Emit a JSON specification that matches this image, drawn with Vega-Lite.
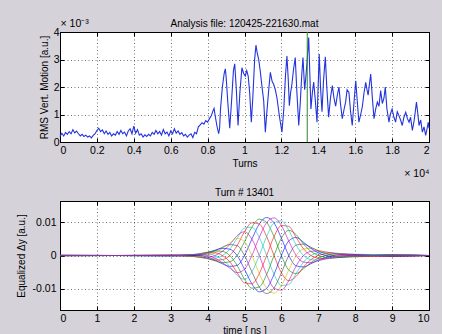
{
"$schema": "https://vega.github.io/schema/vega-lite/v6.json",
"background": "#d5d2d9",
"padding": {"left": 15, "top": 18, "right": 10, "bottom": 5},
"config": {
 "font": "Liberation Sans",
 "view": {"fill": "white", "stroke": "black", "strokeWidth": 1},
 "axis": {"labelFont": "Liberation Sans", "labelFontSize": 10.5, "labelColor": "black", "titleFont": "Liberation Sans", "titleFontSize": 10, "titleFontWeight": "normal", "titleColor": "black", "domainColor": "black", "tickColor": "black", "gridColor": "#000000", "gridOpacity": 0.55, "gridDash": [1, 2.5], "tickSize": -4, "labelPadding": 7},
 "title": {"font": "Liberation Sans", "fontSize": 10, "fontWeight": "normal", "color": "black"}
},
"datasets": {
 "rms": [
  {"t":0,"v":0.20},{"t":0.01,"v":0.32},{"t":0.02,"v":0.22},{"t":0.03,"v":0.35},{"t":0.04,"v":0.28},{"t":0.05,"v":0.38},{"t":0.06,"v":0.30},{"t":0.07,"v":0.45},{"t":0.08,"v":0.33},{"t":0.09,"v":0.40},
  {"t":0.10,"v":0.30},{"t":0.11,"v":0.22},{"t":0.12,"v":0.28},{"t":0.13,"v":0.20},{"t":0.14,"v":0.25},{"t":0.15,"v":0.18},{"t":0.16,"v":0.22},{"t":0.17,"v":0.15},{"t":0.18,"v":0.24},{"t":0.19,"v":0.30},
  {"t":0.20,"v":0.42},{"t":0.21,"v":0.50},{"t":0.22,"v":0.38},{"t":0.23,"v":0.44},{"t":0.24,"v":0.30},{"t":0.25,"v":0.40},{"t":0.26,"v":0.28},{"t":0.27,"v":0.35},{"t":0.28,"v":0.22},{"t":0.29,"v":0.30},
  {"t":0.30,"v":0.25},{"t":0.31,"v":0.38},{"t":0.32,"v":0.28},{"t":0.33,"v":0.42},{"t":0.34,"v":0.30},{"t":0.35,"v":0.36},{"t":0.36,"v":0.22},{"t":0.37,"v":0.40},{"t":0.38,"v":0.48},{"t":0.39,"v":0.30},
  {"t":0.40,"v":0.58},{"t":0.41,"v":0.32},{"t":0.42,"v":0.45},{"t":0.43,"v":0.25},{"t":0.44,"v":0.30},{"t":0.45,"v":0.18},{"t":0.46,"v":0.26},{"t":0.47,"v":0.20},{"t":0.48,"v":0.28},{"t":0.49,"v":0.22},
  {"t":0.50,"v":0.35},{"t":0.51,"v":0.28},{"t":0.52,"v":0.42},{"t":0.53,"v":0.30},{"t":0.54,"v":0.38},{"t":0.55,"v":0.25},{"t":0.56,"v":0.45},{"t":0.57,"v":0.30},{"t":0.58,"v":0.36},{"t":0.59,"v":0.22},
  {"t":0.60,"v":0.40},{"t":0.61,"v":0.30},{"t":0.62,"v":0.48},{"t":0.63,"v":0.32},{"t":0.64,"v":0.40},{"t":0.65,"v":0.28},{"t":0.66,"v":0.34},{"t":0.67,"v":0.22},{"t":0.68,"v":0.28},{"t":0.69,"v":0.18},
  {"t":0.70,"v":0.25},{"t":0.71,"v":0.30},{"t":0.72,"v":0.16},{"t":0.73,"v":0.35},{"t":0.74,"v":0.30},{"t":0.75,"v":0.55},
  {"t":0.76,"v":0.62},{"t":0.77,"v":0.70},{"t":0.78,"v":0.65},{"t":0.79,"v":0.78},{"t":0.80,"v":0.72},{"t":0.81,"v":0.85},{"t":0.82,"v":0.95},{"t":0.83,"v":1.15},{"t":0.835,"v":1.22},{"t":0.84,"v":1.0},
  {"t":0.85,"v":0.6},{"t":0.86,"v":0.3},{"t":0.865,"v":0.5},{"t":0.87,"v":1.2},{"t":0.88,"v":2.0},{"t":0.89,"v":2.5},{"t":0.896,"v":2.66},{"t":0.90,"v":2.4},{"t":0.91,"v":1.4},{"t":0.92,"v":0.5},
  {"t":0.93,"v":1.5},{"t":0.94,"v":2.6},{"t":0.947,"v":2.84},{"t":0.955,"v":2.0},{"t":0.965,"v":0.6},{"t":0.975,"v":1.8},{"t":0.986,"v":2.7},{"t":0.995,"v":2.5},{"t":1.004,"v":2.4},{"t":1.012,"v":2.6},
  {"t":1.02,"v":2.4},{"t":1.028,"v":1.8},{"t":1.037,"v":0.72},{"t":1.045,"v":1.6},{"t":1.055,"v":3.0},{"t":1.062,"v":3.52},{"t":1.07,"v":3.2},{"t":1.077,"v":3.0},{"t":1.085,"v":2.6},{"t":1.095,"v":2.0},
  {"t":1.104,"v":1.5},{"t":1.113,"v":0.36},{"t":1.12,"v":1.0},{"t":1.13,"v":1.8},{"t":1.14,"v":2.53},{"t":1.15,"v":2.2},{"t":1.158,"v":2.1},{"t":1.167,"v":1.9},{"t":1.176,"v":1.6},{"t":1.19,"v":0.9},
  {"t":1.203,"v":0.36},{"t":1.213,"v":1.2},{"t":1.222,"v":2.4},{"t":1.23,"v":3.13},{"t":1.237,"v":2.3},{"t":1.243,"v":1.32},{"t":1.25,"v":1.8},{"t":1.257,"v":2.1},{"t":1.265,"v":2.6},{"t":1.275,"v":3.07},
  {"t":1.284,"v":1.8},{"t":1.294,"v":0.6},{"t":1.302,"v":1.4},{"t":1.31,"v":2.4},{"t":1.317,"v":3.07},{"t":1.326,"v":1.9},{"t":1.333,"v":2.4},{"t":1.339,"v":2.9},{"t":1.344,"v":3.4},{"t":1.348,"v":3.8},
  {"t":1.354,"v":2.5},{"t":1.36,"v":1.2},{"t":1.368,"v":1.8},{"t":1.375,"v":2.18},{"t":1.384,"v":1.5},{"t":1.393,"v":0.72},{"t":1.40,"v":2.2},{"t":1.405,"v":3.2},{"t":1.412,"v":2.0},{"t":1.42,"v":1.1},
  {"t":1.428,"v":2.2},{"t":1.438,"v":3.1},{"t":1.446,"v":2.0},{"t":1.456,"v":0.9},{"t":1.466,"v":1.6},{"t":1.476,"v":2.05},{"t":1.485,"v":1.6},{"t":1.494,"v":1.3},{"t":1.503,"v":1.7},{"t":1.512,"v":2.0},
  {"t":1.52,"v":1.4},{"t":1.53,"v":0.85},{"t":1.54,"v":1.2},{"t":1.548,"v":1.45},{"t":1.556,"v":1.9},{"t":1.566,"v":1.8},{"t":1.575,"v":1.1},{"t":1.584,"v":0.6},{"t":1.593,"v":1.4},{"t":1.603,"v":2.23},
  {"t":1.611,"v":1.5},{"t":1.62,"v":0.72},{"t":1.63,"v":1.0},{"t":1.639,"v":1.3},{"t":1.648,"v":1.8},{"t":1.657,"v":2.17},{"t":1.664,"v":1.9},{"t":1.67,"v":1.7},{"t":1.677,"v":2.1},{"t":1.684,"v":2.47},
  {"t":1.693,"v":1.6},{"t":1.702,"v":0.85},{"t":1.711,"v":1.2},{"t":1.72,"v":1.45},{"t":1.729,"v":1.3},{"t":1.738,"v":1.87},{"t":1.747,"v":1.4},{"t":1.756,"v":1.6},{"t":1.763,"v":2.0},{"t":1.772,"v":1.2},
  {"t":1.783,"v":0.72},{"t":1.79,"v":1.0},{"t":1.80,"v":1.2},{"t":1.81,"v":0.9},{"t":1.819,"v":0.72},{"t":1.828,"v":1.1},{"t":1.837,"v":0.96},{"t":1.846,"v":0.8},{"t":1.855,"v":0.6},{"t":1.864,"v":0.9},
  {"t":1.874,"v":1.08},{"t":1.883,"v":0.85},{"t":1.892,"v":0.72},{"t":1.90,"v":0.9},{"t":1.91,"v":0.42},{"t":1.92,"v":0.8},{"t":1.932,"v":1.45},{"t":1.94,"v":1.0},{"t":1.946,"v":0.6},{"t":1.955,"v":0.8},
  {"t":1.964,"v":0.36},{"t":1.973,"v":0.55},{"t":1.982,"v":0.24},{"t":1.99,"v":0.5},{"t":1.996,"v":0.72},{"t":2.0,"v":0.5}
 ],
 "eq": [
  {"c":0,"t":0,"v":0.00005},{"c":0,"t":1.5,"v":0},{"c":0,"t":3,"v":0.0001},{"c":0,"t":3.6,"v":0.00015},{"c":0,"t":3.8,"v":0},{"c":0,"t":4,"v":-0.0005},{"c":0,"t":4.2,"v":-0.00139},{"c":0,"t":4.4,"v":-0.0025},{"c":0,"t":4.6,"v":-0.00329},{"c":0,"t":4.8,"v":-0.003},{"c":0,"t":5,"v":0},{"c":0,"t":5.2,"v":0.00495},{"c":0,"t":5.4,"v":0.00953},{"c":0,"t":5.6,"v":0.0115},{"c":0,"t":5.8,"v":0.00987},{"c":0,"t":6,"v":0.00525},{"c":0,"t":6.2,"v":0},{"c":0,"t":6.4,"v":-0.00315},{"c":0,"t":6.6,"v":-0.00346},{"c":0,"t":6.8,"v":-0.0025},{"c":0,"t":7,"v":-0.00139},{"c":0,"t":7.2,"v":-0.00055},{"c":0,"t":7.4,"v":0},{"c":0,"t":7.6,"v":0.0003},{"c":0,"t":8,"v":-0.0002},{"c":0,"t":9,"v":0.0002},{"c":0,"t":10,"v":0},
  {"c":1,"t":0,"v":-0.00005},{"c":1,"t":1.5,"v":0},{"c":1,"t":3,"v":-0.0001},{"c":1,"t":3.6,"v":0},{"c":1,"t":3.8,"v":-0.0003},{"c":1,"t":4,"v":-0.00087},{"c":1,"t":4.2,"v":-0.0016},{"c":1,"t":4.4,"v":-0.00217},{"c":1,"t":4.6,"v":-0.0019},{"c":1,"t":4.8,"v":0},{"c":1,"t":5,"v":0.00415},{"c":1,"t":5.2,"v":0.00857},{"c":1,"t":5.4,"v":0.011},{"c":1,"t":5.6,"v":0.00996},{"c":1,"t":5.8,"v":0.0057},{"c":1,"t":6,"v":0},{"c":1,"t":6.2,"v":-0.0044},{"c":1,"t":6.4,"v":-0.00546},{"c":1,"t":6.6,"v":-0.004},{"c":1,"t":6.8,"v":-0.00217},{"c":1,"t":7,"v":-0.0008},{"c":1,"t":7.2,"v":0},{"c":1,"t":7.4,"v":0.0004},{"c":1,"t":7.6,"v":0.00052},{"c":1,"t":8,"v":0.0001},{"c":1,"t":9,"v":0.0002},{"c":1,"t":10,"v":0},
  {"c":2,"t":0,"v":0.00005},{"c":2,"t":1.5,"v":0},{"c":2,"t":3,"v":0},{"c":2,"t":3.6,"v":-0.00015},{"c":2,"t":3.8,"v":-0.00052},{"c":2,"t":4,"v":-0.001},{"c":2,"t":4.2,"v":-0.00139},{"c":2,"t":4.4,"v":-0.00125},{"c":2,"t":4.6,"v":0},{"c":2,"t":4.8,"v":0.003},{"c":2,"t":5,"v":0.00719},{"c":2,"t":5.2,"v":0.0099},{"c":2,"t":5.4,"v":0.00953},{"c":2,"t":5.6,"v":0.00575},{"c":2,"t":5.8,"v":0},{"c":2,"t":6,"v":-0.00525},{"c":2,"t":6.2,"v":-0.00762},{"c":2,"t":6.4,"v":-0.0063},{"c":2,"t":6.6,"v":-0.00346},{"c":2,"t":6.8,"v":-0.00125},{"c":2,"t":7,"v":0},{"c":2,"t":7.2,"v":0.00055},{"c":2,"t":7.4,"v":0.00069},{"c":2,"t":7.6,"v":0.0006},{"c":2,"t":8,"v":0.0003},{"c":2,"t":9,"v":-0.0001},{"c":2,"t":10,"v":0},
  {"c":3,"t":0,"v":-0.00005},{"c":3,"t":1.5,"v":0},{"c":3,"t":3,"v":0.0001},{"c":3,"t":3.6,"v":-0.00026},{"c":3,"t":3.8,"v":-0.0006},{"c":3,"t":4,"v":-0.00087},{"c":3,"t":4.2,"v":-0.0008},{"c":3,"t":4.4,"v":0},{"c":3,"t":4.6,"v":0.0019},{"c":3,"t":4.8,"v":0.0052},{"c":3,"t":5,"v":0.0083},{"c":3,"t":5.2,"v":0.00857},{"c":3,"t":5.4,"v":0.0055},{"c":3,"t":5.6,"v":0},{"c":3,"t":5.8,"v":-0.0057},{"c":3,"t":6,"v":-0.00909},{"c":3,"t":6.2,"v":-0.0088},{"c":3,"t":6.4,"v":-0.00546},{"c":3,"t":6.6,"v":-0.002},{"c":3,"t":6.8,"v":0},{"c":3,"t":7,"v":0.0008},{"c":3,"t":7.2,"v":0.00095},{"c":3,"t":7.4,"v":0.0008},{"c":3,"t":7.6,"v":0.00052},{"c":3,"t":8,"v":0.0004},{"c":3,"t":9,"v":0.0001},{"c":3,"t":10,"v":0},
  {"c":4,"t":0,"v":0.00005},{"c":4,"t":1.5,"v":0},{"c":4,"t":3,"v":-0.0001},{"c":4,"t":3.6,"v":-0.0003},{"c":4,"t":3.8,"v":-0.00052},{"c":4,"t":4,"v":-0.0005},{"c":4,"t":4.2,"v":0},{"c":4,"t":4.4,"v":0.00125},{"c":4,"t":4.6,"v":0.00329},{"c":4,"t":4.8,"v":0.006},{"c":4,"t":5,"v":0.00719},{"c":4,"t":5.2,"v":0.00495},{"c":4,"t":5.4,"v":0},{"c":4,"t":5.6,"v":-0.00575},{"c":4,"t":5.8,"v":-0.00987},{"c":4,"t":6,"v":-0.0105},{"c":4,"t":6.2,"v":-0.00762},{"c":4,"t":6.4,"v":-0.00315},{"c":4,"t":6.6,"v":0},{"c":4,"t":6.8,"v":0.00125},{"c":4,"t":7,"v":0.00139},{"c":4,"t":7.2,"v":0.0011},{"c":4,"t":7.4,"v":0.00069},{"c":4,"t":7.6,"v":0.0003},{"c":4,"t":8,"v":0.0002},{"c":4,"t":9,"v":-0.0002},{"c":4,"t":10,"v":0},
  {"c":5,"t":0,"v":-0.00005},{"c":5,"t":1.5,"v":0},{"c":5,"t":3,"v":0},{"c":5,"t":3.6,"v":-0.00026},{"c":5,"t":3.8,"v":-0.0003},{"c":5,"t":4,"v":0},{"c":5,"t":4.2,"v":0.0008},{"c":5,"t":4.4,"v":0.00217},{"c":5,"t":4.6,"v":0.0038},{"c":5,"t":4.8,"v":0.0052},{"c":5,"t":5,"v":0.00415},{"c":5,"t":5.2,"v":0},{"c":5,"t":5.4,"v":-0.0055},{"c":5,"t":5.6,"v":-0.00996},{"c":5,"t":5.8,"v":-0.0114},{"c":5,"t":6,"v":-0.00909},{"c":5,"t":6.2,"v":-0.0044},{"c":5,"t":6.4,"v":0},{"c":5,"t":6.6,"v":0.002},{"c":5,"t":6.8,"v":0.00217},{"c":5,"t":7,"v":0.0016},{"c":5,"t":7.2,"v":0.00095},{"c":5,"t":7.4,"v":0.0004},{"c":5,"t":7.6,"v":0},{"c":5,"t":8,"v":-0.0001},{"c":5,"t":9,"v":-0.0002},{"c":5,"t":10,"v":0},
  {"c":6,"t":0,"v":0.00005},{"c":6,"t":1.5,"v":0},{"c":6,"t":3,"v":0.0001},{"c":6,"t":3.6,"v":-0.00015},{"c":6,"t":3.8,"v":0},{"c":6,"t":4,"v":0.0005},{"c":6,"t":4.2,"v":0.00139},{"c":6,"t":4.4,"v":0.0025},{"c":6,"t":4.6,"v":0.00329},{"c":6,"t":4.8,"v":0.003},{"c":6,"t":5,"v":0},{"c":6,"t":5.2,"v":-0.00495},{"c":6,"t":5.4,"v":-0.00953},{"c":6,"t":5.6,"v":-0.0115},{"c":6,"t":5.8,"v":-0.00987},{"c":6,"t":6,"v":-0.00525},{"c":6,"t":6.2,"v":0},{"c":6,"t":6.4,"v":0.00315},{"c":6,"t":6.6,"v":0.00346},{"c":6,"t":6.8,"v":0.0025},{"c":6,"t":7,"v":0.00139},{"c":6,"t":7.2,"v":0.00055},{"c":6,"t":7.4,"v":0},{"c":6,"t":7.6,"v":-0.0003},{"c":6,"t":8,"v":0.0002},{"c":6,"t":9,"v":-0.0002},{"c":6,"t":10,"v":0},
  {"c":7,"t":0,"v":-0.00005},{"c":7,"t":1.5,"v":0},{"c":7,"t":3,"v":-0.0001},{"c":7,"t":3.6,"v":0},{"c":7,"t":3.8,"v":0.0003},{"c":7,"t":4,"v":0.00087},{"c":7,"t":4.2,"v":0.0016},{"c":7,"t":4.4,"v":0.00217},{"c":7,"t":4.6,"v":0.0019},{"c":7,"t":4.8,"v":0},{"c":7,"t":5,"v":-0.00415},{"c":7,"t":5.2,"v":-0.00857},{"c":7,"t":5.4,"v":-0.011},{"c":7,"t":5.6,"v":-0.00996},{"c":7,"t":5.8,"v":-0.0057},{"c":7,"t":6,"v":0},{"c":7,"t":6.2,"v":0.0044},{"c":7,"t":6.4,"v":0.00546},{"c":7,"t":6.6,"v":0.004},{"c":7,"t":6.8,"v":0.00217},{"c":7,"t":7,"v":0.0008},{"c":7,"t":7.2,"v":0},{"c":7,"t":7.4,"v":-0.0004},{"c":7,"t":7.6,"v":-0.00052},{"c":7,"t":8,"v":-0.0001},{"c":7,"t":9,"v":-0.0002},{"c":7,"t":10,"v":0},
  {"c":8,"t":0,"v":0.00005},{"c":8,"t":1.5,"v":0},{"c":8,"t":3,"v":0},{"c":8,"t":3.6,"v":0.00015},{"c":8,"t":3.8,"v":0.00052},{"c":8,"t":4,"v":0.001},{"c":8,"t":4.2,"v":0.00139},{"c":8,"t":4.4,"v":0.00125},{"c":8,"t":4.6,"v":0},{"c":8,"t":4.8,"v":-0.003},{"c":8,"t":5,"v":-0.00719},{"c":8,"t":5.2,"v":-0.0099},{"c":8,"t":5.4,"v":-0.00953},{"c":8,"t":5.6,"v":-0.00575},{"c":8,"t":5.8,"v":0},{"c":8,"t":6,"v":0.00525},{"c":8,"t":6.2,"v":0.00762},{"c":8,"t":6.4,"v":0.0063},{"c":8,"t":6.6,"v":0.00346},{"c":8,"t":6.8,"v":0.00125},{"c":8,"t":7,"v":0},{"c":8,"t":7.2,"v":-0.00055},{"c":8,"t":7.4,"v":-0.00069},{"c":8,"t":7.6,"v":-0.0006},{"c":8,"t":8,"v":-0.0003},{"c":8,"t":9,"v":0.0001},{"c":8,"t":10,"v":0},
  {"c":9,"t":0,"v":-0.00005},{"c":9,"t":1.5,"v":0},{"c":9,"t":3,"v":0.0001},{"c":9,"t":3.6,"v":0.00026},{"c":9,"t":3.8,"v":0.0006},{"c":9,"t":4,"v":0.00087},{"c":9,"t":4.2,"v":0.0008},{"c":9,"t":4.4,"v":0},{"c":9,"t":4.6,"v":-0.0019},{"c":9,"t":4.8,"v":-0.0052},{"c":9,"t":5,"v":-0.0083},{"c":9,"t":5.2,"v":-0.00857},{"c":9,"t":5.4,"v":-0.0055},{"c":9,"t":5.6,"v":0},{"c":9,"t":5.8,"v":0.0057},{"c":9,"t":6,"v":0.00909},{"c":9,"t":6.2,"v":0.0088},{"c":9,"t":6.4,"v":0.00546},{"c":9,"t":6.6,"v":0.002},{"c":9,"t":6.8,"v":0},{"c":9,"t":7,"v":-0.0008},{"c":9,"t":7.2,"v":-0.00095},{"c":9,"t":7.4,"v":-0.0008},{"c":9,"t":7.6,"v":-0.00052},{"c":9,"t":8,"v":-0.0004},{"c":9,"t":9,"v":-0.0001},{"c":9,"t":10,"v":0},
  {"c":10,"t":0,"v":0.00005},{"c":10,"t":1.5,"v":0},{"c":10,"t":3,"v":-0.0001},{"c":10,"t":3.6,"v":0.0003},{"c":10,"t":3.8,"v":0.00052},{"c":10,"t":4,"v":0.0005},{"c":10,"t":4.2,"v":0},{"c":10,"t":4.4,"v":-0.00125},{"c":10,"t":4.6,"v":-0.00329},{"c":10,"t":4.8,"v":-0.006},{"c":10,"t":5,"v":-0.00719},{"c":10,"t":5.2,"v":-0.00495},{"c":10,"t":5.4,"v":0},{"c":10,"t":5.6,"v":0.00575},{"c":10,"t":5.8,"v":0.00987},{"c":10,"t":6,"v":0.0105},{"c":10,"t":6.2,"v":0.00762},{"c":10,"t":6.4,"v":0.00315},{"c":10,"t":6.6,"v":0},{"c":10,"t":6.8,"v":-0.00125},{"c":10,"t":7,"v":-0.00139},{"c":10,"t":7.2,"v":-0.0011},{"c":10,"t":7.4,"v":-0.00069},{"c":10,"t":7.6,"v":-0.0003},{"c":10,"t":8,"v":-0.0002},{"c":10,"t":9,"v":0.0002},{"c":10,"t":10,"v":0},
  {"c":11,"t":0,"v":-0.00005},{"c":11,"t":1.5,"v":0},{"c":11,"t":3,"v":0},{"c":11,"t":3.6,"v":0.00026},{"c":11,"t":3.8,"v":0.0003},{"c":11,"t":4,"v":0},{"c":11,"t":4.2,"v":-0.0008},{"c":11,"t":4.4,"v":-0.00217},{"c":11,"t":4.6,"v":-0.0038},{"c":11,"t":4.8,"v":-0.0052},{"c":11,"t":5,"v":-0.00415},{"c":11,"t":5.2,"v":0},{"c":11,"t":5.4,"v":0.0055},{"c":11,"t":5.6,"v":0.00996},{"c":11,"t":5.8,"v":0.0114},{"c":11,"t":6,"v":0.00909},{"c":11,"t":6.2,"v":0.0044},{"c":11,"t":6.4,"v":0},{"c":11,"t":6.6,"v":-0.002},{"c":11,"t":6.8,"v":-0.00217},{"c":11,"t":7,"v":-0.0016},{"c":11,"t":7.2,"v":-0.00095},{"c":11,"t":7.4,"v":-0.0004},{"c":11,"t":7.6,"v":0},{"c":11,"t":8,"v":0.0001},{"c":11,"t":9,"v":0.0002},{"c":11,"t":10,"v":0}
 ]
},
"bounds": "flush",
"spacing": 59,
"vconcat": [
 {
  "width": 369, "height": 110,
  "title": {"text": "Analysis file: 120425-221630.mat", "offset": -10},
  "layer": [
   {
    "data": {"name": "rms"},
    "mark": {"type": "line", "color": "#2233dd", "strokeWidth": 1.1},
    "encoding": {
     "x": {"field": "t", "type": "quantitative", "scale": {"domain": [0, 2], "nice": false}, "axis": {"orient": "bottom", "values": [0,0.2,0.4,0.6,0.8,1,1.2,1.4,1.6,1.8,2], "format": "~g", "title": "Turns", "titlePadding": 3, "grid": true}},
     "y": {"field": "v", "type": "quantitative", "scale": {"domain": [0, 4], "nice": false}, "axis": {"orient": "left", "values": [0,1,2,3,4], "format": "~g", "labelPadding": 5, "title": "RMS Vert. Motion [a.u.]", "titlePadding": 4, "grid": true}}
    }
   },
   {
    "data": {"values": [{"t": 1.3401}]},
    "mark": {"type": "rule", "color": "#2a8a2a", "strokeWidth": 1},
    "encoding": {
     "x": {"field": "t", "type": "quantitative", "axis": {"orient": "top", "values": [0,0.2,0.4,0.6,0.8,1,1.2,1.4,1.6,1.8,2], "labels": false, "grid": false, "title": "× 10⁻³", "titleAnchor": "start", "titleAlign": "left", "titlePadding": 3, "titleFontSize": 10.5}},
     "y": {"datum": 0, "type": "quantitative", "axis": {"orient": "right", "values": [0,1,2,3,4], "labels": false, "title": null, "grid": false}},
     "y2": {"datum": 4}
    }
   }
  ]
 },
 {
  "width": 369, "height": 109,
  "title": {"text": "Turn # 13401", "offset": -29},
  "layer": [
   {
    "data": {"name": "eq"},
    "mark": {"type": "line", "strokeWidth": 0.8, "opacity": 0.75, "interpolate": "monotone"},
    "encoding": {
     "x": {"field": "t", "type": "quantitative", "scale": {"domain": [0, 10], "nice": false}, "axis": {"orient": "bottom", "values": [0,1,2,3,4,5,6,7,8,9,10], "format": "d", "title": "time [ ns ]", "titlePadding": 2, "grid": true}},
     "y": {"field": "v", "type": "quantitative", "scale": {"domain": [-0.0165, 0.0165], "nice": false, "zero": false}, "axis": {"orient": "left", "values": [-0.01, 0, 0.01], "format": "~g", "labelExpr": "replace(datum.label, '−', '-')", "labelPadding": 8, "title": "Equalized Δy [a.u.]", "titlePadding": 6, "grid": true}},
     "color": {"field": "c", "type": "nominal", "legend": null, "scale": {"domain": [0,1,2,3,4,5,6,7,8,9,10,11], "range": ["#0000ff","#008000","#ff0000","#00bfbf","#bf00bf","#bfbf00","#404040","#0000ff","#008000","#ff0000","#00bfbf","#bf00bf"]}}
    }
   },
   {
    "data": {"values": [{"t": 5, "v": 0}]},
    "mark": {"type": "point", "opacity": 0},
    "encoding": {
     "x": {"field": "t", "type": "quantitative", "axis": {"orient": "top", "values": [0,1,2,3,4,5,6,7,8,9,10], "labels": false, "grid": false, "title": "× 10⁴", "titleAnchor": "end", "titleAlign": "right", "titlePadding": 22, "titleFontSize": 10.5}},
     "y": {"field": "v", "type": "quantitative", "axis": {"orient": "right", "values": [-0.01, 0, 0.01], "labels": false, "title": null, "grid": false}}
    }
   }
  ]
 }
]
}
